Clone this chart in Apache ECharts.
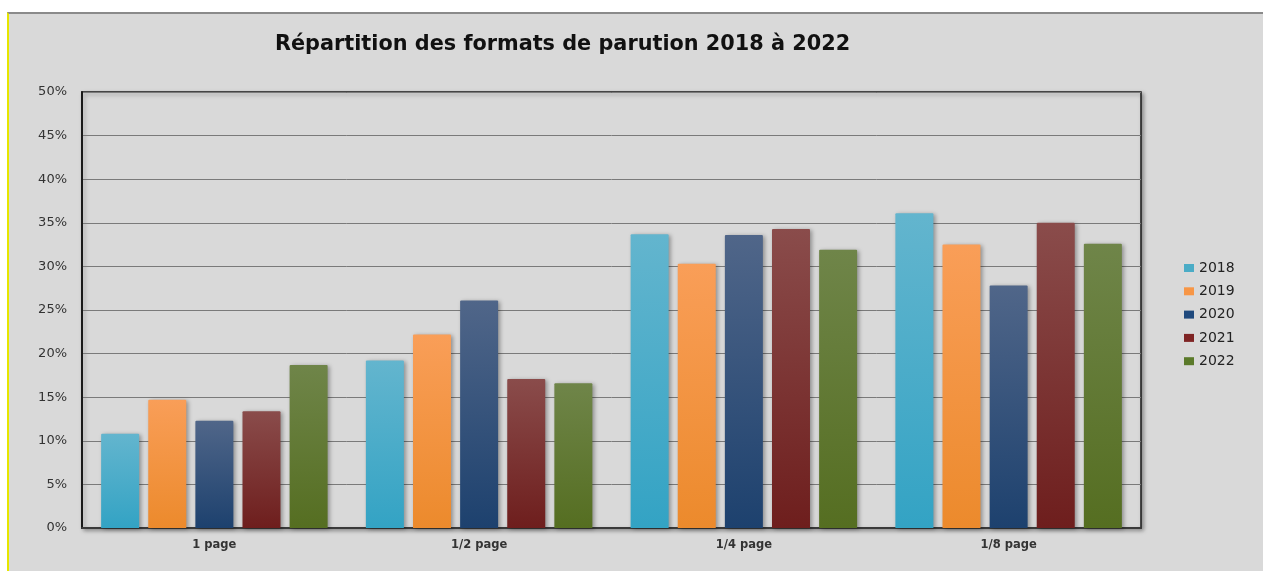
<!DOCTYPE html>
<html>
<head>
<meta charset="utf-8">
<script src="https://cdn.jsdelivr.net/npm/echarts@6/dist/echarts.min.js"></script>
<style>
  html, body { margin: 0; padding: 0; background: #ffffff; width: 1263px; height: 571px; overflow: hidden; }
  #frame { position: absolute; left: 7px; top: 12px; width: 1256px; height: 559px; background: #d9d9d9;
           border-top: 2px solid #8a8a8a; border-left: 2px solid #e6e600; box-sizing: border-box; }
  #chart { position: absolute; left: 0; top: 0; width: 1263px; height: 571px; }
</style>
</head>
<body>
<div id="frame"></div>
<div id="chart"></div>
<script>
const categories = ['1 page', '1/2 page', '1/4 page', '1/8 page'];
const years = ['2018', '2019', '2020', '2021', '2022'];
const values2018 = [10.8, 19.2, 33.7, 36.1];
const values2019 = [14.7, 22.2, 30.3, 32.5];
const values2020 = [12.3, 26.1, 33.6, 27.8];
const values2021 = [13.4, 17.1, 34.3, 35.0];
const values2022 = [18.7, 16.6, 31.9, 32.6];
const yTicks = [0, 5, 10, 15, 20, 25, 30, 35, 40, 45, 50];

const seriesValues = [values2018, values2019, values2020, values2021, values2022];
const legendColors = ['#4bacc6', '#f79646', '#1f497d', '#7f2424', '#5b7a2a'];
const gradTop = ['#63b5ce', '#f99e58', '#506689', '#8a4c4b', '#6f8549'];
const gradBottom = ['#33a3c4', '#ec8a2c', '#1d416e', '#6e1e1d', '#556e21'];

const chart = echarts.init(document.getElementById('chart'), null, { renderer: 'canvas' });
const font = 'DejaVu Sans';

chart.setOption({
  backgroundColor: 'transparent',
  animation: false,
  title: {
    text: 'Répartition des formats de parution 2018 à 2022',
    left: 270, top: 29,
    textStyle: { fontFamily: font, fontWeight: 'bold', fontSize: 20.8, color: '#111' }
  },
  legend: {
    orient: 'vertical', left: 1179, top: 256,
    itemWidth: 10, itemHeight: 8, itemGap: 9.3,
    icon: 'rect',
    data: years.map((y, i) => ({ name: y, itemStyle: { color: legendColors[i] } })),
    textStyle: { fontFamily: font, fontSize: 14, color: '#222', padding: [0, 0, 0, 0] }
  },
  grid: {
    left: 82, right: 122, top: 92, bottom: 43,
    show: true, borderColor: '#1a1a1a', borderWidth: 1.5,
    shadowColor: 'rgba(0,0,0,0.35)', shadowBlur: 4, shadowOffsetX: 2, shadowOffsetY: 2,
    backgroundColor: '#d9d9d9'
  },
  xAxis: {
    type: 'category', data: categories,
    axisLine: { show: true, lineStyle: { color: '#3a3a3a', width: 2 } },
    axisTick: { show: false },
    axisLabel: { fontFamily: font, fontSize: 11.5, fontWeight: 'bold', color: '#333', margin: 11 }
  },
  yAxis: {
    type: 'value', min: 0, max: 50, interval: 5,
    axisLine: { show: true, lineStyle: { color: '#1a1a1a', width: 2 } },
    axisTick: { show: false },
    splitLine: { lineStyle: { color: '#7a7a7a', width: 1 } },
    axisLabel: { fontFamily: font, fontSize: 13, color: '#333', margin: 15,
      formatter: v => yTicks.includes(v) ? v + '%' : '' }
  },
  series: years.map((y, i) => ({
    name: y, type: 'bar',
    data: seriesValues[i],
    barWidth: 38, barGap: '24%',
    itemStyle: {
      color: new echarts.graphic.LinearGradient(0, 0, 0, 1, [
        { offset: 0, color: gradTop[i] }, { offset: 1, color: gradBottom[i] }
      ]),
      borderRadius: [1, 1, 0, 0],
      shadowColor: 'rgba(0,0,0,0.35)', shadowBlur: 4, shadowOffsetX: 2, shadowOffsetY: 1
    }
  }))
});
</script>
</body>
</html>
